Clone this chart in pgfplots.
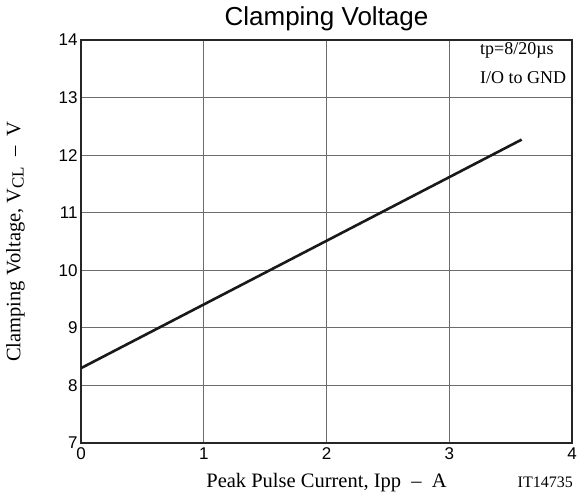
\documentclass[border=0pt]{standalone}
\usepackage{fontspec}
\setmainfont{Liberation Serif}
\newfontfamily\sans{Liberation Sans}
\usepackage{pgfplots}
\pgfplotsset{compat=1.18}

\begin{document}
\begin{tikzpicture}
\path[use as bounding box] (-81pt,-56pt) rectangle (498pt,443pt);
\begin{axis}[
    at={(0pt,0pt)}, anchor=south west,
    scale only axis, clip=false,
    width=491pt, height=403pt,
    xmin=0, xmax=4, ymin=7, ymax=14,
    xtick={0,1,2,3,4}, ytick={7,8,...,14},
    tick style={draw=none},
    grid=major,
    major grid style={gray!85!black, line width=0.9pt},
    axis line style={black!85, line width=1.3pt},
    /pgf/number format/assume math mode=true,
    ticklabel style={font=\sans\fontsize{17}{17}\selectfont},
    xticklabel style={yshift=-1pt},
    title={Clamping Voltage},
    title style={font=\sans\fontsize{26}{26}\selectfont, at={(axis description cs:0.5,1)}, anchor=base, yshift=8pt},
    xlabel={Peak Pulse Current, Ipp \ \textendash\ \ A},
    xlabel style={font=\fontsize{20.5}{20.5}\selectfont, at={(axis description cs:0.5,0)}, anchor=base, yshift=-44pt},
    ylabel={Clamping Voltage, V\raisebox{-0.35ex}{\fontsize{17}{17}\selectfont CL} \ \textendash\ \ V},
    ylabel style={font=\fontsize{20.5}{20.5}\selectfont, at={(axis description cs:-0.1334,0.5)}, anchor=center},
]
\addplot[black!90, line width=2.6pt] coordinates {(0,8.30) (3.59,12.27)};
\node[anchor=base west, font=\fontsize{18}{18}\selectfont, inner sep=0pt]
    at (axis cs:3.25,13.74) {tp=8/20µs};
\node[anchor=base west, font=\fontsize{18}{18}\selectfont, inner sep=0pt]
    at (axis cs:3.25,13.25) {I/O to GND};
\node[anchor=base east, font=\fontsize{16}{16}\selectfont, inner sep=0pt]
    at (axis description cs:1.002,0) [yshift=-44pt] {IT14735};
\end{axis}
\end{tikzpicture}
\end{document}
